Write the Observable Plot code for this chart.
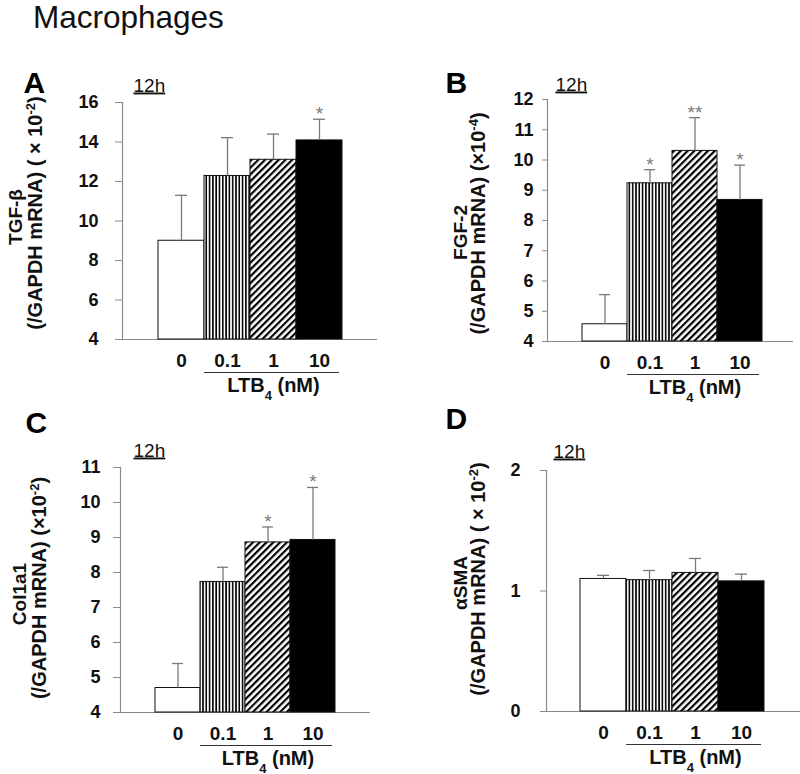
<!DOCTYPE html>
<html>
<head>
<meta charset="utf-8">
<script src="https://cdn.jsdelivr.net/npm/d3@7"></script>
<script src="https://cdn.jsdelivr.net/npm/@observablehq/plot@0.6"></script>
<style>
  html, body { margin: 0; padding: 0; background: #fff; }
  #root { position: relative; width: 800px; height: 774px; overflow: hidden; font-family: Arial, "Liberation Sans", sans-serif; }
  #title { position: absolute; left: 33px; top: 1px; font-size: 31.5px; line-height: 32px; color: #111; }
  #root svg { overflow: visible; }
</style>
</head>
<body>
<svg width="0" height="0" style="position:absolute">
  <defs>
    <pattern id="vstripe" patternUnits="userSpaceOnUse" width="3.3" height="10">
      <rect width="3.3" height="10" fill="#fff"></rect>
      <rect x="0.9" width="1.6" height="10" fill="#000"></rect>
    </pattern>
    <pattern id="dstripe" patternUnits="userSpaceOnUse" width="4.8" height="10" patternTransform="rotate(45)">
      <rect width="4.8" height="10" fill="#fff"></rect>
      <rect width="2.2" height="10" fill="#000"></rect>
    </pattern>
  </defs>
</svg>
<div id="root"><div id="title">Macrophages</div></div>
<script>
// ---------- data ----------
const doses = ["0", "0.1", "1", "10"];

const tgfMean = [9.0, 12.28, 13.1, 14.08];
const tgfSD   = [2.3, 1.94, 1.3, 1.07];
const tgfSig  = ["", "", "", "*"];
const tgfTicks = [4, 6, 8, 10, 12, 14, 16];

const fgfMean = [4.57, 9.23, 10.3, 8.68];
const fgfSD   = [0.98, 0.45, 1.1, 1.15];
const fgfSig  = ["", "*", "**", "*"];
const fgfTicks = [4, 5, 6, 7, 8, 9, 10, 11, 12];

const colMean = [4.7, 7.73, 8.86, 8.93];
const colSD   = [0.7, 0.42, 0.44, 1.5];
const colSig  = ["", "", "*", "*"];
const colTicks = [4, 5, 6, 7, 8, 9, 10, 11];

const smaMean = [1.10, 1.09, 1.15, 1.08];
const smaSD   = [0.03, 0.08, 0.12, 0.06];
const smaSig  = ["", "", "", ""];
const smaTicks = [0, 1, 2];

const xLabel = "LTB_{4} (nM)";
const timeLabel = "12h";

// ---------- styles ----------
const FONT = 'Arial, "Liberation Sans", sans-serif';
const AXIS = "#8a8a8a";
const ERR = "#7a7a7a";
const barFills = ["#fff", "url(#vstripe)", "url(#dstripe)", "#000"];

const panels = [
  { letter: "A", name: "TGF-β", unit: "(/GAPDH mRNA) ( × 10^{-2})", mean: tgfMean, sd: tgfSD, sig: tgfSig, ticks: tgfTicks,
    L: { left: 0, top: 50, h: 350, ml: 122, mr: 23, mt: 52, mb: 61, range: [157, 343], ts: 7, tp: 17,
         l1: [-107, -4], l2: [-87, -8], let: [-99, -10], th: [11, -11] } },
  { letter: "B", name: "FGF-2", unit: "(/GAPDH mRNA) (×10^{-4})", mean: fgfMean, sd: fgfSD, sig: fgfSig, ticks: fgfTicks,
    L: { left: 400, top: 50, h: 350, ml: 147, mr: 7, mt: 49, mb: 59, range: [180, 363], ts: 5, tp: 9,
         l1: [-87, 12], l2: [-69, 3], let: [-102, -7], th: [8, -9] } },
  { letter: "C", name: "Col1a1", unit: "(/GAPDH mRNA) (×10^{-2})", mean: colMean, sd: colSD, sig: colSig, ticks: colTicks,
    L: { left: 0, top: 400, h: 374, ml: 120, mr: 30, mt: 67, mb: 62, range: [153, 336], ts: 7, tp: 13,
         l1: [-101, 4], l2: [-81, -2], let: [-95, -35], th: [13, -11] } },
  { letter: "D", name: "αSMA", unit: "(/GAPDH mRNA) ( × 10^{-2})", mean: smaMean, sd: smaSD, sig: smaSig, ticks: smaTicks,
    L: { left: 400, top: 400, h: 374, ml: 146, mr: 0, mt: 70, mb: 63, range: [180, 364], ts: 6, tp: 20,
         l1: [-86, -8], l2: [-68, -12], let: [-101, -42], th: [7, -13] } }
];

function richify(svg) {
  svg.querySelectorAll("text, tspan").forEach(el => {
    if (el.children.length) return;
    const s = el.textContent;
    if (s === timeLabel) el.style.textDecoration = "underline";
    const m = s.match(/^(.*?)([\^_])\{(.+?)\}(.*)$/);
    if (!m) return;
    el.textContent = "";
    el.append(document.createTextNode(m[1]));
    const t = document.createElementNS("http://www.w3.org/2000/svg", "tspan");
    t.setAttribute("baseline-shift", m[2] === "^" ? "super" : "sub");
    t.setAttribute("font-size", "65%");
    t.textContent = m[3];
    el.append(t);
    el.append(document.createTextNode(m[4]));
  });
}

const root = document.getElementById("root");

for (const p of panels) {
  const L = p.L;
  const base = p.ticks[0];
  const rows = doses.map((d, i) => ({
    dose: d, mean: p.mean[i], upper: p.mean[i] + p.sd[i], sig: p.sig[i], fill: barFills[i], base
  }));
  const svg = Plot.plot({
    width: 400, height: L.h,
    marginLeft: L.ml, marginRight: L.mr, marginTop: L.mt, marginBottom: L.mb,
    style: { fontFamily: FONT, fontWeight: "bold", background: "transparent", overflow: "visible", color: "#111" },
    x: { type: "band", domain: doses, range: L.range, padding: 0 },
    y: { domain: [base, p.ticks[p.ticks.length - 1]] },
    color: { type: "identity" },
    marks: [
      Plot.frame({ anchor: "left", stroke: AXIS, strokeWidth: 1.2 }),
      Plot.ruleY([base], { stroke: AXIS, strokeWidth: 1.2 }),
      Plot.axisY({ ticks: p.ticks, tickSize: L.ts, tickPadding: L.tp, stroke: AXIS, fill: "#111",
                   fontSize: 18, fontWeight: "bold", label: null, tickFormat: d => String(d) }),
      Plot.axisX({ tickSize: 0, tickPadding: 14, fill: "#111", fontSize: 19, fontWeight: "bold", label: null }),
      Plot.barY(rows, { x: "dose", y1: "base", y2: "mean", fill: "fill", stroke: "#111", strokeWidth: 1 }),
      Plot.ruleX(rows, { x: "dose", y1: "mean", y2: "upper", stroke: ERR, strokeWidth: 1.3 }),
      Plot.tickY(rows, { x: "dose", y: "upper", stroke: ERR, strokeWidth: 1.3, insetLeft: 17, insetRight: 17 }),
      Plot.text(rows, { x: "dose", y: "upper", text: "sig", lineAnchor: "bottom", dy: 1, fill: ERR,
                        fontSize: 19, fontWeight: "normal" }),
      Plot.ruleY([{ x1: "0.1", x2: "10", y: base }], { x1: "x1", x2: "x2", y: "y", dy: 33, insetRight: 3, stroke: "#333", strokeWidth: 1.2 }),
      Plot.text([{ x: "1", y: base }], { x: "x", y: "y", text: () => xLabel, dy: 46, fontSize: 20, fontWeight: "bold", fill: "#111" }),
      Plot.text([p.name], { text: d => d, frameAnchor: "left", textAnchor: "middle", lineAnchor: "middle", rotate: -90,
                            dx: L.l1[0], dy: L.l1[1], fontSize: 19, fontWeight: "bold", fill: "#111" }),
      Plot.text([p.unit], { text: d => d, frameAnchor: "left", textAnchor: "middle", lineAnchor: "middle", rotate: -90,
                            dx: L.l2[0], dy: L.l2[1], fontSize: 20, fontWeight: "bold", fill: "#111" }),
      Plot.text([p.letter], { text: d => d, frameAnchor: "top-left", textAnchor: "start", lineAnchor: "bottom",
                              dx: L.let[0], dy: L.let[1], fontSize: 30, fontWeight: "bold", fill: "#000" }),
      Plot.text([timeLabel], { text: d => d, frameAnchor: "top-left", textAnchor: "start", lineAnchor: "bottom",
                               dx: L.th[0], dy: L.th[1], fontSize: 19, fontWeight: "normal", fill: "#111" })
    ]
  });
  richify(svg);
  const div = document.createElement("div");
  div.style.cssText = `position:absolute;left:${L.left}px;top:${L.top}px;`;
  div.append(svg);
  root.append(div);
}
</script>
</body>
</html>
